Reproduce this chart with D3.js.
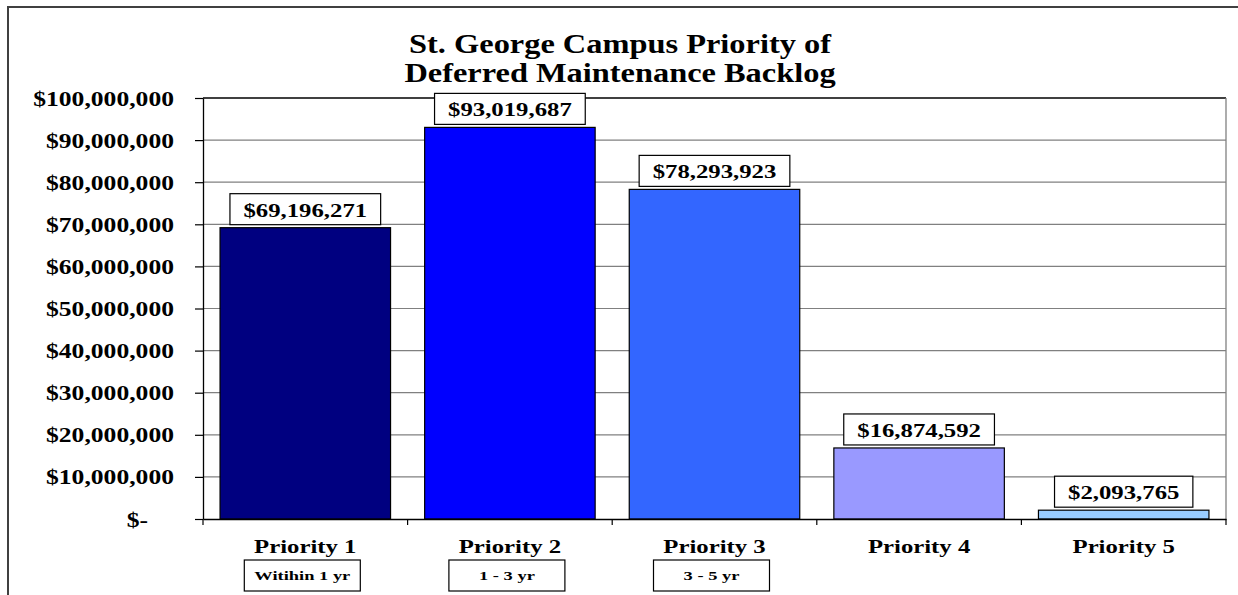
<!DOCTYPE html>
<html>
<head>
<meta charset="utf-8">
<script src="https://cdn.jsdelivr.net/npm/d3@7"></script>
<style>
  html, body { margin: 0; padding: 0; background: #fff; }
  svg { display: block; }
</style>
</head>
<body>
<svg id="chart" width="1238" height="595"></svg>
<script>
// ---- data ----
const titleLines = ["St. George Campus Priority of", "Deferred Maintenance Backlog"];
const categories = ["Priority 1", "Priority 2", "Priority 3", "Priority 4", "Priority 5"];
const values = [69196271, 93019687, 78293923, 16874592, 2093765];
const barColors = ["#000080", "#0000FF", "#3366FF", "#9999FF", "#99CCFF"];
const timeframes = ["Witihin 1 yr", "1 - 3 yr", "3 - 5 yr", null, null];
const yTickValues = [0, 10000000, 20000000, 30000000, 40000000, 50000000, 60000000, 70000000, 80000000, 90000000, 100000000];

// ---- layout ----
const FONT = '"Liberation Serif", "Times New Roman", serif';
const plot = { left: 203, right: 1226, top: 98, bottom: 519 };
const svg = d3.select("#chart");

// outer frame
svg.append("rect").attr("x", 8).attr("y", 7).attr("width", 1260).attr("height", 620)
  .attr("fill", "#fff").attr("stroke", "#404040").attr("stroke-width", 2);

const x = d3.scaleBand(categories, [plot.left, plot.right]).paddingInner(1 / 6).paddingOuter(1 / 12);
const y = d3.scaleLinear([0, 100000000], [plot.bottom, plot.top]);

function txt(sel, size) {
  return sel.style("font-family", FONT).style("font-weight", "bold").style("font-size", size + "px").attr("fill", "#000");
}
function stretch(sel, tx, ty, sx) {
  sel.attr("x", 0).attr("y", 0).attr("dy", null).attr("transform", `translate(${tx},${ty}) scale(${sx},1)`);
}

// gridlines
svg.append("g").selectAll("line").data(yTickValues.filter(d => d > 0 && d < 100000000)).join("line")
  .attr("x1", plot.left).attr("x2", plot.right)
  .attr("y1", d => y(d)).attr("y2", d => y(d))
  .attr("stroke", "#808080").attr("stroke-width", 1.2);

// plot area border: top black, right gray
svg.append("line").attr("x1", plot.left).attr("x2", plot.right).attr("y1", y(100000000)).attr("y2", y(100000000))
  .attr("stroke", "#000").attr("stroke-width", 1.3);
svg.append("line").attr("x1", plot.right).attr("x2", plot.right).attr("y1", plot.top).attr("y2", plot.bottom)
  .attr("stroke", "#808080").attr("stroke-width", 1.3);

// bars
svg.append("g").selectAll("rect").data(values).join("rect")
  .attr("x", (d, i) => x(categories[i]))
  .attr("y", d => y(d))
  .attr("width", x.bandwidth())
  .attr("height", d => y(0) - y(d))
  .attr("fill", (d, i) => barColors[i])
  .attr("stroke", "#000").attr("stroke-width", 1.2);

// y axis
const fmt = d3.format(",");
const yAxis = d3.axisLeft(y).tickValues(yTickValues).tickSize(8).tickSizeOuter(0)
  .tickFormat(d => d === 0 ? "$-" : "$" + fmt(d));
const gy = svg.append("g").attr("transform", `translate(${plot.left},0)`).call(yAxis);
gy.attr("font-family", null).attr("font-size", null);
gy.select(".domain").attr("stroke", "#000").attr("stroke-width", 1.3);
gy.selectAll(".tick line").attr("stroke", "#000").attr("stroke-width", 1.2);
gy.selectAll(".tick text").each(function (d) {
  const t = d3.select(this);
  txt(t, 20).attr("text-anchor", "end");
  stretch(t, d === 0 ? -55 : -29, 7, 1.28);
});

// x axis
const xAxis = d3.axisBottom(x).tickSize(0).tickFormat("");
const gx = svg.append("g").attr("transform", `translate(0,${plot.bottom})`).call(xAxis);
gx.select(".domain").attr("stroke", "#000").attr("stroke-width", 1.3);
gx.selectAll(".tick").remove();
const boundaries = categories.map(c => x(c) - x.step() * x.paddingInner() / 2).concat([plot.right]);
gx.selectAll("line.bt").data(boundaries).join("line").attr("class", "bt")
  .attr("x1", d => d).attr("x2", d => d).attr("y1", 0).attr("y2", 6)
  .attr("stroke", "#000").attr("stroke-width", 1.2);

// category labels
svg.append("g").selectAll("text").data(categories).join("text")
  .call(txt, 19.5).attr("text-anchor", "middle").text(d => d)
  .each(function (d) { stretch(d3.select(this), x(d) + x.bandwidth() / 2, 553, 1.27); });

// timeframe boxes
const tf = svg.append("g").selectAll("g").data(timeframes.map((t, i) => ({ t, c: categories[i] })).filter(d => d.t)).join("g");
tf.append("rect")
  .attr("x", d => x(d.c) + x.bandwidth() / 2 - 3 - 58).attr("y", 560)
  .attr("width", 116).attr("height", 31)
  .attr("fill", "#fff").attr("stroke", "#000").attr("stroke-width", 1.2);
tf.append("text").call(txt, 13).attr("text-anchor", "middle").text(d => d.t)
  .each(function (d) { stretch(d3.select(this), x(d.c) + x.bandwidth() / 2 - 3, 580, 1.42); });

// data labels
const lab = svg.append("g").selectAll("g").data(values).join("g");
lab.each(function (d, i) {
  const g = d3.select(this);
  const cx = x(categories[i]) + x.bandwidth() / 2;
  const boxBottom = y(d) - 3;
  const rect = g.append("rect");
  const t = g.append("text").call(txt, 19.5).attr("text-anchor", "middle").text("$" + fmt(d));
  stretch(t, cx, boxBottom - 8, 1.27);
  const w = t.node().getComputedTextLength() * 1.27 + 27;
  rect.attr("x", cx - w / 2).attr("y", boxBottom - 31).attr("width", w).attr("height", 31)
    .attr("fill", "#fff").attr("stroke", "#000").attr("stroke-width", 1.2);
});

// title
svg.append("g").selectAll("text").data(titleLines).join("text")
  .call(txt, 27).attr("text-anchor", "middle").text(d => d)
  .each(function (d, i) { stretch(d3.select(this), 620, 53 + i * 28.5, 1.2); });
</script>
</body>
</html>
